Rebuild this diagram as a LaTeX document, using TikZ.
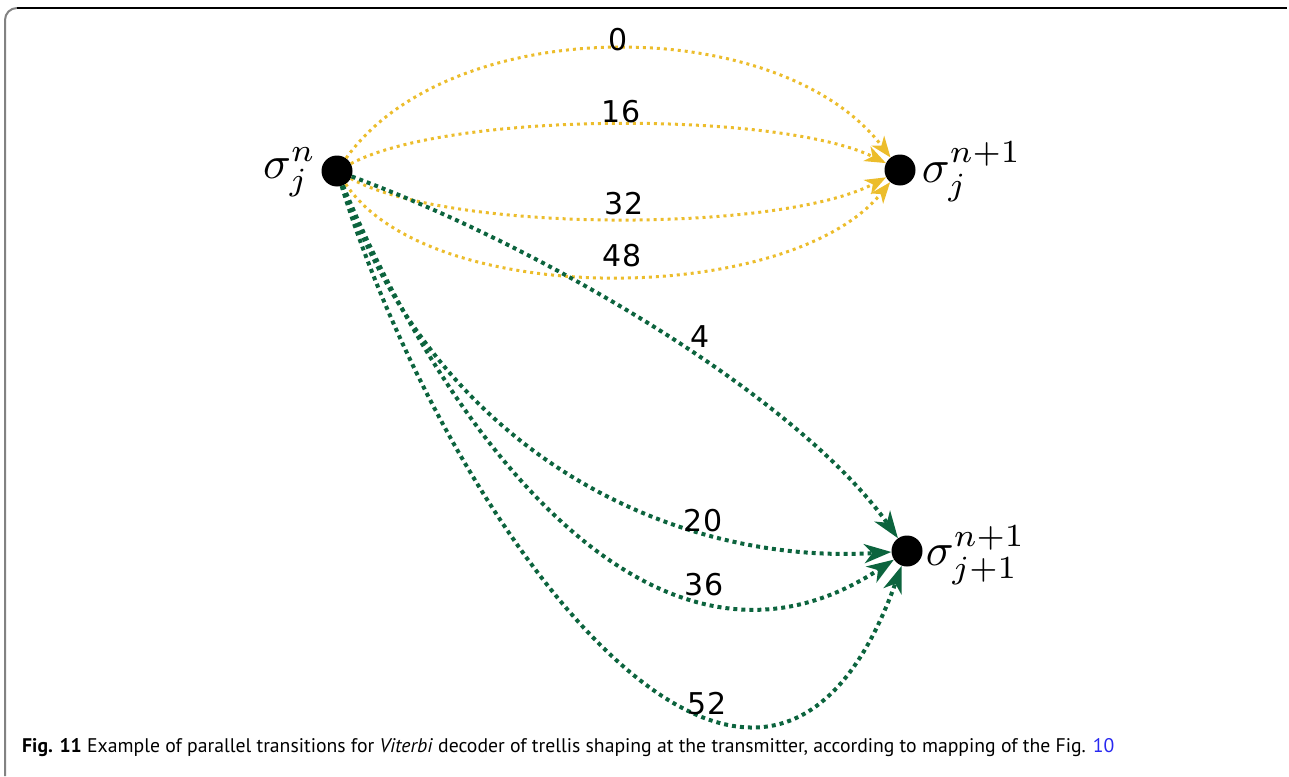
\documentclass[tikz,border=0pt]{standalone}
\usepackage{fontspec}
\newfontfamily\capfont{PT Sans}
\newfontfamily\numfont{DejaVu Sans}
\usetikzlibrary{arrows.meta}
\definecolor{yel}{RGB}{236,189,44}
\definecolor{grn}{RGB}{12,100,62}
\definecolor{linkblue}{RGB}{40,40,240}
\definecolor{framegray}{RGB}{130,130,130}
\tikzset{
  dot/.style={circle,fill=black,inner sep=0pt,minimum size=31pt},
  yedge/.style={yel,line width=3pt,dash pattern=on 3pt off 4pt,
    -{Stealth[length=21pt,width=16pt,inset=6pt]}},
  gedge/.style={grn,line width=4pt,dash pattern=on 4pt off 4pt,
    -{Stealth[length=27pt,width=19pt,inset=8pt]}},
  num/.style={font=\numfont\fontsize{30}{34}\selectfont,inner sep=0pt},
  mlabel/.style={scale=4.6,inner sep=0pt}
}
\begin{document}
\begin{tikzpicture}[x=1pt,y=-1pt]
\useasboundingbox (0,0) rectangle (1289,776);
% frame
\draw[framegray,line width=2pt] (5,776) -- (5,20) arc[start angle=180,end angle=270,radius=12];
\draw[black,line width=1.5pt] (17,8) -- (1287,8);
% nodes
\node[dot] (s) at (337,171) {};
\node[dot] (t1) at (900,170) {};
\node[dot] (t2) at (907,551) {};
\node[mlabel,anchor=east] (ls) at (317,172) {$\sigma_j^n$};
\node[mlabel,anchor=west] (lt1) at (921,172) {$\sigma_j^{n+1}$};
\node[mlabel,anchor=west] (lt2) at (925,555) {$\sigma_{j+1}^{n+1}$};
% yellow edges
\draw[yedge] (s) .. controls (450,12) and (780,12) .. (t1);
\draw[yedge] (s) .. controls (450,111) and (780,111) .. (t1);
\draw[yedge] (s) .. controls (450,233) and (780,233) .. (t1);
\draw[yedge] (s) .. controls (430,310) and (790,306) .. (t1);
% green edges
\draw[gedge] (s) .. controls (550,250) and (800,400) .. (t2);
\draw[gedge] (s) .. controls (440,460) and (680,565) .. (t2);
\draw[gedge] (s) .. controls (440,420) and (650,720) .. (t2);
\draw[gedge] (s) .. controls (445,520) and (760,960) .. (t2);
% labels
\node[num] (l0) at (618,40) {0};
\node[num] (l16) at (621,112) {16};
\node[num] (l32) at (624,204) {32};
\node[num] (l48) at (622,256) {48};
\node[num] (l4) at (700,337) {4};
\node[num] (l20) at (703,521) {20};
\node[num] (l36) at (704,585) {36};
\node[num] (l52) at (707,704) {52};
% caption
\node[anchor=base west,inner sep=0pt,font=\capfont\fontsize{19.7}{23}\selectfont] (cap) at (22,752)
  {\textbf{Fig. 11} Example of parallel transitions for \textit{Viterbi} decoder of trellis shaping at the transmitter, according to mapping of the Fig. \textcolor{linkblue}{10}};
\end{tikzpicture}
\end{document}
